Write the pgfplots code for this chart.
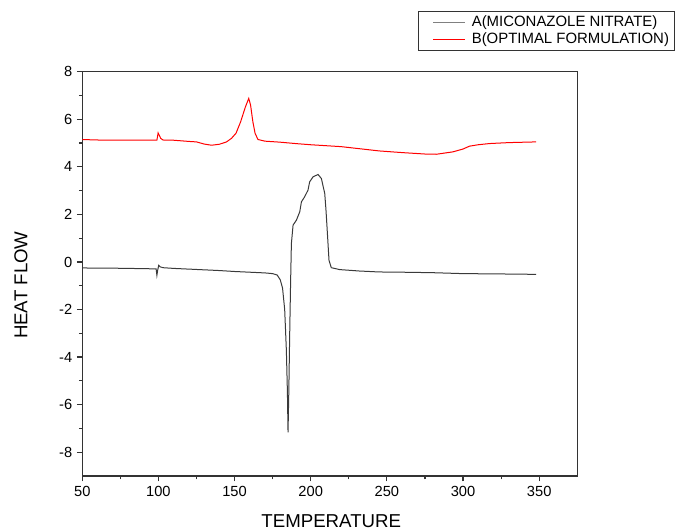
\documentclass[border=0pt]{standalone}
\usepackage{fontspec}
\setmainfont{Liberation Sans}
\usepackage{pgfplots}
\pgfplotsset{compat=1.18}
\usetikzlibrary{calc}

\definecolor{frame}{HTML}{333333}
\definecolor{curveA}{HTML}{3A3A3A}
\definecolor{legA}{HTML}{808080}
\definecolor{legB}{HTML}{FF0000}

\begin{document}
\begin{tikzpicture}
\begin{axis}[
  scale only axis,
  width=371.25pt,height=303.2pt,
  xmin=50,xmax=375,ymin=-9,ymax=8,
  xtick={50,100,...,350},ytick={-8,-6,...,8},
  minor x tick num=1,minor y tick num=1,
  tick pos=left,tick align=outside,
  major tick length=4pt,minor tick length=2.5pt,
  axis line style={frame,line width=0.9pt},
  every tick/.style={frame,line width=0.9pt},
  tick label style={font=\fontsize{11}{13}\selectfont},
  /pgf/number format/assume math mode=true,
  xlabel={TEMPERATURE},ylabel={HEAT FLOW},
  label style={font=\fontsize{14}{16}\selectfont},
  xlabel style={at={(axis description cs:0.503,-0.112)},anchor=center},
  ylabel style={at={(axis description cs:-0.124,0.472)},anchor=center},
  legend style={name=leg,at={(axis description cs:0.680,1.150)},anchor=north west,
    draw=none,font=\fontsize{11.2}{13}\selectfont,
    row sep=-1pt,inner sep=1.5pt},
  legend cell align=left,
]
\addplot[curveA,line width=0.75pt,
  legend image code/.code={\path[draw=none] (0pt,0pt) -- (36pt,0pt);
    \fill[legA,draw=none] (9pt,-0.3pt) rectangle (33pt,0.3pt);}] coordinates {
(50,-0.25) (60,-0.26) (70,-0.26) (80,-0.27) (90,-0.28) (98.5,-0.29)
(99,-0.56) (99.5,-0.35) (100.2,-0.14) (101,-0.2) (103,-0.24) (110,-0.27)
(120,-0.3) (130,-0.33) (140,-0.36) (150,-0.4) (160,-0.43) (170,-0.46)
(175,-0.49) (178,-0.55) (180,-0.75) (181.5,-1.1) (182.9,-2.0) (184,-3.7)
(184.7,-5.5) (185.1,-7.16) (185.6,-5.5) (186.2,-3.0) (186.8,-0.8) (187.3,0.77)
(188.4,1.55) (190.6,1.76) (192.8,2.11) (193.9,2.53) (196,2.74) (198.2,3.02)
(199.3,3.37) (201.5,3.58) (204.8,3.68) (207,3.51) (209.2,2.88) (210,2.2)
(210.7,1.47) (212,0.07) (213.5,-0.24) (219,-0.32) (232,-0.38) (245,-0.42)
(260,-0.43) (280,-0.45) (300,-0.49) (320,-0.5) (348,-0.52)
};
\addlegendentry{A(MICONAZOLE NITRATE)}
\addplot[red,line width=0.75pt,
  legend image code/.code={\path[draw=none] (0pt,0pt) -- (36pt,0pt);
    \fill[legB,draw=none] (9pt,-0.3pt) rectangle (33pt,0.3pt);}] coordinates {
(50,5.15) (60,5.13) (70,5.12) (80,5.12) (90,5.12) (99,5.12)
(99.8,5.43) (101.5,5.2) (103,5.13) (110,5.12) (120,5.07) (125,5.05)
(130,4.96) (134.8,4.91) (140,4.95) (144.7,5.05) (148,5.2) (151,5.42)
(154,5.9) (157,6.5) (159.3,6.88) (160.5,6.6) (162,5.9) (163.5,5.4)
(165.4,5.15) (170,5.08) (179.6,5.04) (190,4.98) (200,4.93) (220,4.85)
(245,4.67) (260,4.6) (275,4.54) (282.4,4.53) (293.3,4.63) (300,4.75)
(304.2,4.87) (310,4.93) (317.3,4.98) (330,5.02) (348,5.05)
};
\addlegendentry{B(OPTIMAL FORMULATION)}
\end{axis}
\draw[frame,line width=0.6pt] (leg.north west) rectangle (leg.south east);
\pgfresetboundingbox
\path ($(current axis.south west)+(-61.7pt,-41.25pt)$) rectangle ++(506.25pt,398.25pt);
\end{tikzpicture}
\end{document}
